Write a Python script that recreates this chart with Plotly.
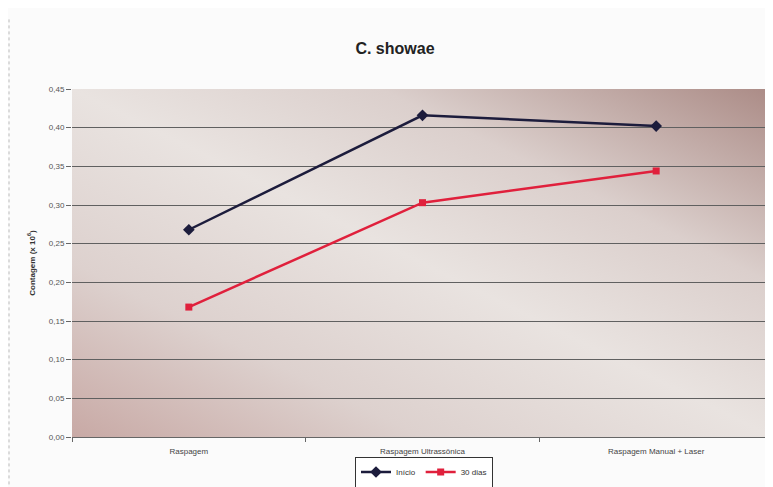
import plotly.graph_objects as go
import urllib.parse

categories = ["Raspagem", "Raspagem Ultrassônica", "Raspagem Manual + Laser"]
inicio = [0.268, 0.416, 0.402]
dias30 = [0.168, 0.303, 0.344]
yticks = [0, 0.05, 0.10, 0.15, 0.20, 0.25, 0.30, 0.35, 0.40, 0.45]

svg = ('<svg xmlns="http://www.w3.org/2000/svg" width="700" height="348" preserveAspectRatio="none" viewBox="0 0 700 348">'
       '<defs><linearGradient id="g" x1="0" y1="1" x2="1" y2="0">'
       '<stop offset="0" stop-color="#c8a9a5"/>'
       '<stop offset="0.25" stop-color="#ddd1ce"/>'
       '<stop offset="0.5" stop-color="#e9e3e0"/>'
       '<stop offset="0.72" stop-color="#dbcfcc"/>'
       '<stop offset="1" stop-color="#ab8b86"/>'
       '</linearGradient></defs><rect width="700" height="348" fill="url(#g)"/></svg>')
svg_uri = "data:image/svg+xml;charset=utf-8," + urllib.parse.quote(svg)

fig = go.Figure()
fig.add_trace(go.Scatter(x=categories, y=inicio, name="Início", mode="lines+markers",
                         line=dict(color="#1c1c3c", width=2.5),
                         marker=dict(symbol="diamond", size=9, color="#1c1c3c")))
fig.add_trace(go.Scatter(x=categories, y=dias30, name="30 dias", mode="lines+markers",
                         line=dict(color="#e0203c", width=2.5),
                         marker=dict(symbol="square", size=7, color="#e0203c")))

# page has an 8px body margin, so the figure is offset by 8px
W, H = 765, 479
fig.update_layout(
    width=W, height=H,
    margin=dict(l=64, r=0, t=81, b=H - 429, autoexpand=False),
    paper_bgcolor="#fbfbfb",
    plot_bgcolor="rgba(0,0,0,0)",
    separators=",.",
    font=dict(family="Liberation Sans, Arial, sans-serif", color="#444", size=8),
    title=dict(text="<b>C. showae</b>", x=387/W, xanchor="center", y=1 - 40/H, yanchor="middle",
               font=dict(size=16, color="#222")),
    images=[dict(source=svg_uri, xref="paper", yref="paper", x=0, y=1, sizex=1, sizey=1,
                 xanchor="left", yanchor="top", sizing="stretch", layer="below")],
    xaxis=dict(range=[-0.5, 2.5], showgrid=False, ticks="outside", tickson="boundaries", ticklen=4,
               tickcolor="#666", showline=True, linecolor="#666", linewidth=1,
               ticklabelstandoff=6, tickfont=dict(size=8, color="#444")),
    yaxis=dict(range=[0, 0.45], tickvals=yticks, tickformat=".2f", showgrid=True,
               gridcolor="#606060", gridwidth=1.3, ticks="outside", ticklen=5, tickcolor="#666",
               zeroline=False, showline=False, tickfont=dict(size=8, color="#555"),
               title=dict(text="<b>Contagem (x 10<sup>6</sup>)</b>", font=dict(size=8, color="#333"),
                          standoff=12)),
    legend=dict(orientation="h", x=(416 - 64) / 701, xanchor="center",
                yref="container", y=(H - 464) / H, yanchor="middle",
                bordercolor="#333", borderwidth=1, bgcolor="#ffffff",
                font=dict(size=8, color="#333"), itemwidth=30, tracegroupgap=0),
    shapes=[dict(type="line", xref="paper", yref="paper", x0=(1 - 64) / 701, x1=(1 - 64) / 701,
                 y0=1.2, y1=-0.15, line=dict(color="#bbbbbb", width=1, dash="dot"))],
)

fig.write_html("out.html")
